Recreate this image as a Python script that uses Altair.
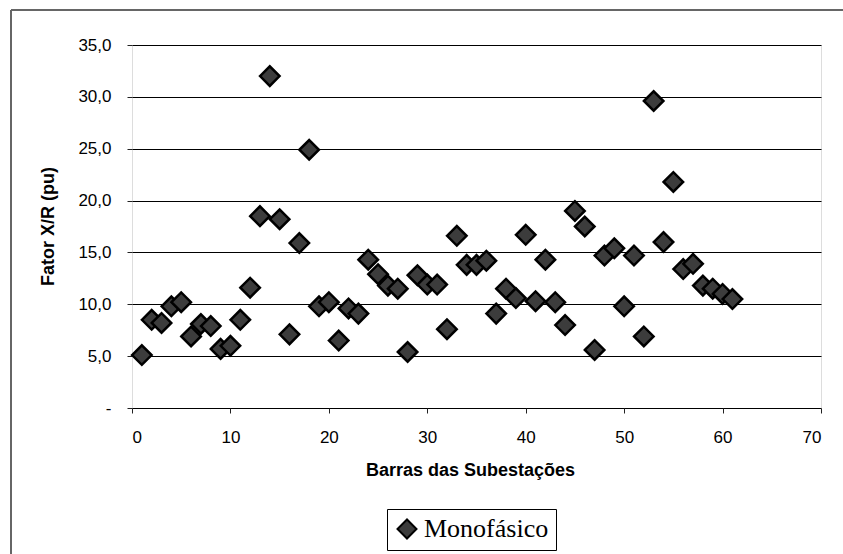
import altair as alt
import pandas as pd

barras = list(range(1, 62))
fator_xr = [5.1, 8.5, 8.2, 9.8, 10.2, 6.9, 8.1, 7.9, 5.7, 6.0,
            8.5, 11.6, 18.5, 32.0, 18.2, 7.1, 15.9, 24.9, 9.8, 10.2,
            6.5, 9.6, 9.1, 14.3, 12.9, 11.8, 11.5, 5.4, 12.8, 11.9,
            11.9, 7.6, 16.6, 13.8, 13.8, 14.2, 9.1, 11.5, 10.6, 16.7,
            10.3, 14.3, 10.2, 8.0, 19.0, 17.5, 5.6, 14.7, 15.4, 9.8,
            14.7, 6.9, 29.6, 16.0, 21.8, 13.4, 13.9, 11.8, 11.5, 11.0,
            10.5]
serie = ["Monofásico"] * len(barras)

x_ticks = [0, 10, 20, 30, 40, 50, 60, 70]
y_ticks = [0, 5, 10, 15, 20, 25, 30, 35]

df = pd.DataFrame({"barra": barras, "xr": fator_xr, "serie": serie})

W, H = 689, 363

points = alt.Chart(df).mark_point(
    shape="diamond", filled=True, size=380, stroke="#000000",
    strokeWidth=2.5, opacity=1
).encode(
    x=alt.X("barra:Q", scale=alt.Scale(domain=[0, 70], nice=False),
            axis=alt.Axis(values=x_ticks, title="Barras das Subestações",
                          grid=False, tickSize=5, tickColor="#222",
                          labelFont="Liberation Sans", labelFontSize=17,
                          labelColor="black", labelPadding=16,
                          titleFont="Liberation Sans", titleFontSize=18,
                          titleFontWeight="bold", titleColor="black",
                          titleX=338, titleY=62, titleBaseline="middle",
                          domain=False)),
    y=alt.Y("xr:Q", scale=alt.Scale(domain=[0, 35], nice=False),
            axis=alt.Axis(values=y_ticks, title="Fator X/R (pu)",
                          grid=True, gridColor="black", gridWidth=1,
                          tickSize=5, tickColor="#222",
                          labelExpr="datum.value == 0 ? '-' : replace(format(datum.value, '.1f'), '.', ',')",
                          labelFont="Liberation Sans", labelFontSize=17,
                          labelColor="black", labelPadding=16,
                          titleFont="Liberation Sans", titleFontSize=18,
                          titleFontWeight="bold", titleColor="black",
                          titleX=-84, titleY=181, titleBaseline="middle",
                          domain=False)),
    color=alt.Color("serie:N", scale=alt.Scale(range=["#3c3c3c"]),
                    legend=alt.Legend(title=None, orient="none",
                                      legendX=255, legendY=464,
                                      strokeColor="black", padding=7,
                                      labelFont="Liberation Serif",
                                      labelFontSize=26, labelColor="black",
                                      symbolType="diamond", symbolSize=360,
                                      symbolStrokeColor="#000000",
                                      symbolStrokeWidth=2,
                                      symbolFillColor="#3c3c3c",
                                      labelLimit=400))
)

frame = alt.Chart(df).mark_rect(
    fill=None, stroke="#666666", strokeWidth=1
).encode(
    x=alt.value(11 - 132), y=alt.value(10 - 45),
    x2=alt.value(1000), y2=alt.value(1000)
)

chart = alt.layer(frame, points).properties(
    width=W, height=H,
    autosize=alt.AutoSizeParams(type="none"),
    padding={"left": 132, "top": 45, "right": 22, "bottom": 146}
).configure_view(
    stroke="#333333", strokeWidth=1.5
).configure(background="white")

chart.save("out.html", embed_options={"renderer": "svg", "actions": False})
